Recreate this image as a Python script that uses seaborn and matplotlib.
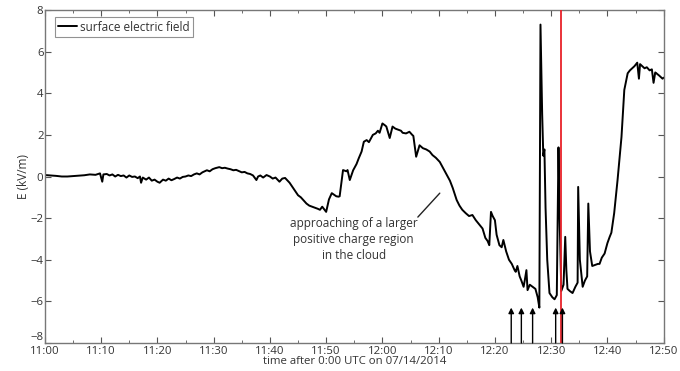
import matplotlib
matplotlib.use("Agg")
import matplotlib.pyplot as plt
import seaborn as sns
import pandas as pd
from matplotlib.ticker import MultipleLocator

# time in minutes after 11:00 UTC, surface field in kV/m
t_min = [0, 1, 2, 3, 4, 5, 6, 7, 8, 9, 9.8, 10.2, 10.4, 11, 11.5, 12, 12.5, 13, 13.5, 14,
         14.5, 15, 15.5, 16, 16.5, 16.9, 17.1, 17.4, 18, 18.5, 19, 19.5, 20, 20.4, 21, 21.5,
         22, 22.5, 23, 23.5, 24, 24.5, 25, 25.5, 26, 26.5, 27, 27.5, 28, 28.8, 29.3, 29.8,
         30.3, 31, 31.5, 32, 32.5, 33, 33.5, 34, 34.6, 35, 35.5, 36, 36.5, 37, 37.6, 37.9,
         38.3, 38.8, 39.4, 40, 40.5, 41, 41.7, 42.2, 42.7, 43.5, 44, 44.5, 45, 45.5, 46,
         46.5, 47, 47.5, 48, 48.5, 48.9, 49.3, 50, 50.5, 51, 51.8, 52.2, 52.4, 53, 53.6,
         53.8, 54.2, 54.8, 55.4, 55.8, 56.3, 56.7, 57.2, 57.6, 58.3, 58.8, 59.2, 59.5, 60,
         60.5, 60.7, 61.3, 61.8, 62.3, 62.8, 63.3, 63.6, 64.2, 64.8, 65.3, 65.5, 66, 66.6,
         67.2, 67.8, 68.4, 68.9, 69.5, 70.2, 70.8, 71.4, 72, 72.5, 73.2, 73.7, 74.2, 74.8,
         75.4, 76, 76.6, 77.2, 77.8, 78.3, 78.7, 79, 79.3, 79.6, 80, 80.3, 80.8, 81.2, 81.5,
         82, 82.5, 83, 83.5, 83.7, 84, 84.4, 84.7, 85.1, 85.3, 85.6, 85.8, 86.2, 86.7, 87.2,
         87.6, 87.9, 88.1, 88.4, 88.6, 88.8, 89.0, 89.3, 89.7, 90.2, 90.6, 91.0, 91.3, 91.5,
         91.8, 92.2, 92.5, 92.7, 92.9, 93.3, 93.8, 94.3, 94.7, 94.8, 95.1, 95.6, 96.0, 96.4,
         96.6, 96.9, 97.3, 97.8, 98.3, 98.6, 99.0, 99.5, 100.0, 100.4, 100.7, 101.2, 101.8,
         102.5, 103.0, 103.6, 104.0, 104.4, 104.8, 105.3, 105.6, 105.8, 106.2, 106.6, 107.0,
         107.5, 107.9, 108.2, 108.5, 108.7, 109.2, 109.8, 110]
e_kvm = [0.07, 0.05, 0.03, 0.0, 0.0, 0.02, 0.04, 0.06, 0.1, 0.08, 0.15, -0.25, 0.1, 0.12,
         0.05, 0.1, 0.0, 0.08, 0.02, 0.05, -0.05, 0.05, -0.02, 0.0, -0.08, 0.0, -0.3, -0.05,
         -0.15, -0.05, -0.2, -0.15, -0.25, -0.3, -0.15, -0.2, -0.1, -0.18, -0.12, -0.05,
         -0.1, -0.02, 0.0, 0.05, 0.02, 0.1, 0.15, 0.1, 0.2, 0.3, 0.25, 0.35, 0.4, 0.45,
         0.4, 0.42, 0.38, 0.35, 0.3, 0.32, 0.25, 0.2, 0.22, 0.15, 0.12, 0.05, -0.17, 0.0,
         0.05, -0.05, 0.07, 0.0, -0.1, -0.05, -0.25, -0.1, -0.07, -0.3, -0.5, -0.7, -0.9,
         -1.0, -1.15, -1.3, -1.4, -1.45, -1.5, -1.55, -1.6, -1.45, -1.7, -1.1, -0.8, -0.95,
         -0.97, -0.95, 0.31, 0.25, 0.31, -0.17, 0.3, 0.6, 0.88, 1.2, 1.67, 1.75, 1.65, 2.0,
         2.07, 2.2, 2.1, 2.55, 2.45, 2.4, 1.85, 2.4, 2.3, 2.25, 2.2, 2.1, 2.07, 2.15, 2.0,
         1.95, 0.95, 1.5, 1.36, 1.3, 1.2, 1.03, 0.9, 0.7, 0.4, 0.1, -0.2, -0.55, -1.13,
         -1.4, -1.6, -1.76, -1.9, -1.85, -2.1, -2.3, -2.5, -2.95, -3.1, -3.3, -1.7, -1.9,
         -2.1, -2.8, -3.3, -3.4, -3.05, -3.6, -4.0, -4.2, -4.5, -4.58, -4.3, -4.8, -5.0,
         -5.3, -5.0, -4.5, -5.46, -5.2, -5.3, -5.4, -5.8, -6.3, 7.3, 3.0, 1.0, 1.3, -1.5,
         -4.0, -5.6, -5.8, -5.9, -5.7, 1.4, -2.0, -5.5, -5.2, -2.9, -4.5, -5.4, -5.5, -5.6,
         -5.3, -5.1, -0.5, -4.0, -5.3, -5.0, -4.8, -1.3, -3.6, -4.3, -4.25, -4.2, -4.2,
         -3.9, -3.7, -3.2, -2.9, -2.7, -1.76, -0.17, 1.9, 4.16, 4.96, 5.1, 5.2, 5.3, 5.47,
         4.7, 5.4, 5.3, 5.2, 5.25, 5.1, 5.15, 4.5, 5.0, 4.96, 4.85, 4.7, 4.75]

x_tick_labels = ["11:00", "11:10", "11:20", "11:30", "11:40", "11:50", "12:00",
                 "12:10", "12:20", "12:30", "12:40", "12:50"]
y_ticks = [-8, -6, -4, -2, 0, 2, 4, 6, 8]
arrow_times = [82.9, 84.7, 86.7, 90.8, 92.0]
red_line_time = 91.8

sns.set_style("ticks")
plt.rcParams["font.family"] = ["Open Sans", "DejaVu Sans"]

fig = plt.figure(figsize=(6.8, 3.71), dpi=100)
ax = fig.add_axes([0.066, 0.0755, 0.910, 0.8975])

df = pd.DataFrame({"t": t_min, "E": e_kvm})
sns.lineplot(data=df, x="t", y="E", color="black", lw=1.4, ax=ax,
             label="surface electric field")

ax.axvline(red_line_time, color="#e8222a", lw=1.3, zorder=3)

for ta in arrow_times:
    ax.annotate("", xy=(ta, -6.3), xytext=(ta, -8),
                arrowprops=dict(arrowstyle="-|>", color="black", lw=1.0,
                                mutation_scale=8, shrinkA=0, shrinkB=0))

ax.annotate("", xy=(70.2, -0.8), xytext=(66.3, -1.95),
            arrowprops=dict(arrowstyle="-", color="#222222", lw=1.0,
                            shrinkA=0, shrinkB=0))
ax.text(54.9, -1.95, "approaching of a larger\npositive charge region\nin the cloud",
        ha="center", va="top", fontsize=8.5, color="#333333", linespacing=1.3)

ax.set_xlim(0, 110)
ax.set_ylim(-8, 8)
ax.set_xticks(range(0, 111, 10))
ax.set_xticklabels(x_tick_labels)
ax.xaxis.set_minor_locator(MultipleLocator(5))
ax.set_yticks(y_ticks)
ax.set_yticklabels([f"{v}".replace("-", "\u2212") for v in y_ticks])
ax.tick_params(axis="both", which="both", direction="in", top=True, right=True,
               labelsize=8.2, labelcolor="#333333", color="#555555")
ax.tick_params(axis="x", pad=2.5)
ax.tick_params(axis="y", pad=1)
ax.tick_params(which="major", length=4)
ax.tick_params(which="minor", length=2)
# the lowest y label sits just above the axis corner, as in the original
ax.get_yticklabels()[0].set_verticalalignment("bottom")
for s in ax.spines.values():
    s.set_color("#777777")
    s.set_linewidth(1.0)

ax.set_xlabel("time after 0:00 UTC on 07/14/2014", fontsize=8.2, color="#333333", labelpad=-1)
ax.set_ylabel("E (kV/m)", fontsize=8.5, color="#333333", labelpad=0)

leg = ax.legend(loc="upper left", bbox_to_anchor=(10 / 620, 1 - 7 / 333),
                borderaxespad=0, fontsize=8.5, frameon=True, fancybox=False,
                handlelength=1.6, handletextpad=0.2, borderpad=0.3)
leg.get_frame().set_edgecolor("#777777")
leg.get_frame().set_linewidth(0.8)
for txt in leg.get_texts():
    txt.set_color("#333333")

fig.savefig("out.png", dpi=100)
